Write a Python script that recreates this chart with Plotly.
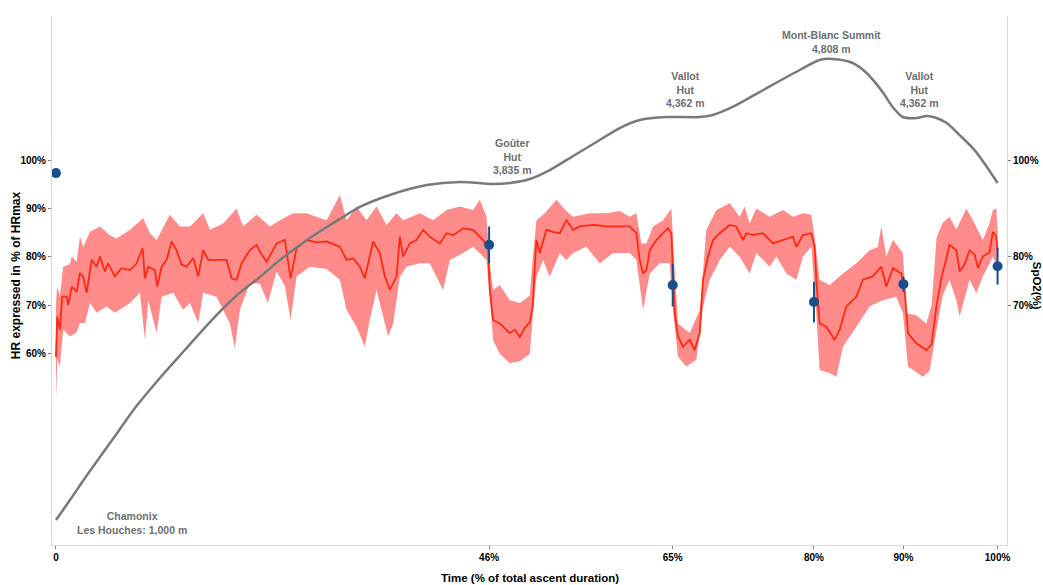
import plotly.graph_objects as go

# ---- Heart rate (% of HRmax): mean line and band (x = % of ascent duration) ----
mean_x = [0, 0.14, 0.42, 0.67, 1.14, 1.31, 1.67, 2.20, 2.55, 2.90, 3.26, 3.79, 4.32, 4.67, 5.20, 5.55,
          6.26, 6.97, 7.86, 8.57, 9.20, 9.45, 9.80, 10.51, 10.75, 11.22, 11.75, 12.28, 12.81, 13.34,
          13.87, 14.58, 15.11, 15.64, 16.17, 16.70, 17.41, 18.12, 18.65, 19.18, 19.71, 20.59, 21.31,
          21.66, 22.37, 23.43, 24.31, 24.92, 25.55, 26.61, 27.68, 28.74, 30.15, 30.86, 31.56, 32.27,
          32.80, 33.68, 34.39, 34.93, 35.46, 36.17, 36.52, 36.87, 37.58, 38.29, 38.99, 39.70, 40.76,
          41.48, 42.18, 43.24, 44.30, 45.36, 45.89, 46.07, 46.42, 47.13, 48.20, 48.73, 49.26, 49.79,
          50.32, 50.64, 50.85, 51.03, 51.38, 52.09, 52.79, 53.50, 54.21, 54.92, 55.63, 57.04, 58.46,
          59.87, 60.93, 61.64, 61.99, 62.35, 62.71, 63.06, 63.77, 64.47, 65.00, 65.36, 65.53, 65.71,
          66.06, 66.59, 67.30, 67.83, 68.37, 68.72, 69.25, 69.78, 70.49, 71.55, 72.26, 72.96, 73.32,
          74.02, 75.08, 76.15, 77.21, 78.27, 78.63, 79.33, 80.22, 80.57, 80.75, 81.10, 81.81, 82.70,
          83.23, 83.94, 85.00, 85.70, 86.76, 87.65, 88.18, 88.89, 89.78, 90.13, 90.48, 91.37, 92.43,
          92.99, 93.52, 94.06, 94.48, 94.90, 95.62, 95.97, 96.50, 97.03, 97.56, 97.91, 98.44, 99.15,
          99.50, 99.86, 100]
mean_hr = [59.4, 67.7, 65, 71.8, 71.8, 70.1, 73.9, 72.8, 76.7, 75.9, 72.6, 79.4, 78, 80.1, 77, 78.7,
           76, 77.7, 77.3, 78.7, 81.8, 75.6, 78, 77.3, 73.9, 78, 79.4, 83.2, 81.4, 78.4,
           78, 79.8, 76, 81.4, 79.4, 79.4, 79.4, 79.4, 75.6, 75.3, 78.7, 81.4, 82.5,
           81.1, 79, 82.8, 83.5, 75.6, 81.8, 83.5, 83, 83.2, 82.1, 79.4, 79.7, 78,
           75.6, 83.2, 80.8, 76, 73.2, 76, 84.2, 80.1, 82.8, 83.5, 85.6, 84.2, 82.8,
           84.9, 84.5, 85.9, 85.6, 83.5, 82.1, 73.2, 67, 66.3, 64.3, 65, 63.5, 65.4,
           66.5, 70, 78, 83.5, 80.8, 85.6, 85.2, 84.9, 87.6, 85.6, 86.3, 86.6, 86.3,
           86.3, 86.3, 84.9, 79.4, 76.6, 77.3, 81.4, 83.5, 84.9, 85.9, 84.9, 75.3, 68.4,
           63.6, 61.5, 62.9, 60.8, 64.3, 75.3, 80.1, 83.5, 84.9, 86.6, 86.3, 83.5, 84.9,
           84.5, 84.9, 82.8, 83.5, 84.2, 82.1, 84.5, 84.9, 82.1, 75.3, 66.3, 65.6, 62.9,
           65, 69.8, 71.8, 75.3, 76, 78, 73.9, 77.7, 76.6, 73.2, 64.3, 62.2, 60.8,
           62, 70, 76, 79, 82.5, 81.4, 77, 78.5, 81.4, 80.5, 77.7, 80.1, 81,
           85.2, 84.2, 81.4]

upper_x = [0, 0.11, 0.42, 0.77, 1.49, 1.67, 2.20, 2.55, 2.90, 3.61, 4.67, 5.73, 6.44, 7.86, 9.27,
           9.98, 10.69, 12.10, 13.16, 14.23, 15.64, 16.35, 17.76, 19.18, 19.88, 21.31, 22.72, 23.78,
           25.19, 26.61, 28.74, 30.15, 30.86, 31.92, 32.98, 34.04, 35.11, 36.17, 36.87, 38.64, 40.05,
           41.48, 42.89, 44.30, 45.01, 45.72, 46.07, 46.42, 47.13, 48.20, 49.26, 50.32, 50.64, 51.03,
           51.91, 53.15, 54.21, 54.92, 56.69, 58.46, 59.87, 60.93, 61.64, 62.17, 62.71, 63.40, 64.47,
           65.36, 65.61, 66.06, 67.30, 68.37, 68.68, 69.07, 70.14, 71.55, 72.61, 73.14, 73.67, 74.38,
           75.80, 77.21, 78.27, 79.33, 80.22, 80.57, 81.10, 82.17, 83.58, 85.00, 86.41, 87.26, 87.65,
           88.18, 88.89, 89.95, 90.31, 91.37, 92.43, 92.99, 93.52, 94.16, 94.90, 95.62, 96.68, 97.38,
           98.44, 99.15, 99.50, 99.86, 100]
upper_hr = [70, 73.9, 72, 78, 78.5, 80.1, 79, 84.2, 82, 85.2, 86.3, 84.5, 83.8, 85.6, 88,
            84.9, 83.5, 88.7, 86.3, 86.3, 89, 85.6, 86.9, 90, 86.3, 88.7, 86.3, 87.6,
            89, 89, 87.6, 92.8, 87.6, 90.4, 87.6, 90.4, 86.6, 89, 87.6, 89, 87.6,
            89.7, 90.4, 89.7, 91.8, 88.3, 78.7, 73.2, 74.2, 71.1, 70.5, 72, 80, 87.6,
            89, 91.8, 89.5, 88.3, 89, 89, 89.5, 88.3, 89, 82.8, 82.8, 86.3, 87.6,
            90, 80, 66.3, 64.3, 69, 76, 85.6, 89.7, 91.1, 88.3, 90.4, 86.9, 90,
            88.3, 89.7, 88.3, 89, 88.7, 84, 75.3, 74.2, 76.6, 78.7, 81.4, 82, 86.3,
            80.1, 83.5, 80.8, 68.4, 68, 66.3, 70, 84, 87, 88.3, 85.6, 90, 87.6,
            83.5, 87, 89.7, 90, 85.6]

lower_x = [0, 0.14, 0.42, 0.77, 1.49, 2.20, 2.55, 3.08, 3.61, 4.32, 5.38, 6.26, 7.86, 8.92, 9.45,
           9.80, 10.69, 11.22, 12.45, 13.51, 14.23, 15.11, 15.64, 17.06, 18.47, 19.00, 19.53, 20.59,
           21.66, 22.51, 23.43, 24.31, 24.92, 25.55, 26.96, 28.74, 30.15, 30.86, 31.92, 32.80, 33.33,
           34.04, 34.75, 35.28, 35.81, 36.52, 37.23, 38.64, 39.70, 41.11, 41.83, 43.24, 44.30, 45.72,
           46.07, 46.42, 47.13, 48.20, 49.26, 50.32, 50.64, 51.03, 51.73, 52.44, 53.50, 54.21, 54.92,
           56.33, 57.75, 59.16, 60.93, 61.64, 62.35, 63.06, 64.12, 65.18, 65.53, 66.06, 66.95, 68.01,
           68.72, 69.43, 70.49, 71.55, 72.61, 73.67, 74.38, 75.80, 76.51, 77.57, 78.63, 79.33, 80.22,
           80.75, 81.10, 82.17, 82.88, 83.58, 85.00, 86.41, 87.80, 89.24, 89.95, 90.48, 92.07, 92.78,
           93.52, 94.16, 94.90, 95.62, 95.97, 97.03, 97.74, 98.44, 99.50, 100]
lower_hr = [49.9, 59, 57.4, 65, 63.6, 64.5, 66.4, 66.4, 70.5, 68.5, 69.8, 68.5, 70.5, 72.6, 62.9,
            71.1, 64.3, 71.8, 72.6, 69.1, 70.5, 66.4, 72.6, 71.8, 66.3, 61.2, 69.1, 74.6,
            74.5, 70.5, 77, 74, 67, 76, 78, 77.5, 75.3, 69.1, 65.6, 61.5, 67,
            73.2, 67.7, 63.6, 66.3, 75.9, 78, 78.7, 78.7, 73.2, 79.4, 80.8, 82.1, 79.4,
            72, 62.9, 60, 58.1, 58.5, 60, 68, 75.9, 79.4, 75.9, 80.8, 79.4, 80.8,
            82.1, 78.7, 80.8, 80.8, 79.4, 69.1, 76.6, 78.7, 78.7, 69, 59.4, 57.4, 58.8,
            69.8, 75.3, 79.4, 82.1, 80.1, 76.6, 80.8, 78, 80.1, 76.6, 75.3, 80.1, 82.1,
            68.4, 56.7, 56, 55.3, 61.5, 65.6, 69.8, 71.1, 71.8, 68.4, 57.4, 55.3, 56.5,
            65, 72, 75.3, 71.1, 67.7, 75.3, 72.5, 76, 80.1, 78]

# ---- Elevation profile (m) ----
elev_x = [0, 1.49, 3.08, 4.67, 6.58, 8.39, 11.04, 13.69, 16.35, 19.00, 21.66, 23.78, 26.96, 30.15,
          32.27, 35.46, 39.38, 42.89, 46.39, 48.20, 50.32, 52.44, 55.10, 57.75, 59.87, 62.00, 64.86,
          68.37, 69.75, 71.87, 75.48, 78.98, 81.10, 82.48, 84.61, 86.09, 87.79, 88.85, 89.92, 91.40,
          92.46, 93.52, 94.59, 95.97, 97.56, 98.94, 100]
elev_m = [1000, 1165, 1347, 1520, 1727, 1925, 2173, 2404, 2635, 2842, 3007, 3147, 3329, 3486,
          3585, 3684, 3766, 3791, 3775, 3783, 3816, 3890, 4014, 4138, 4237, 4303, 4328,
          4328, 4345, 4411, 4567, 4716, 4799, 4807, 4774, 4691, 4534, 4411, 4328, 4320,
          4336, 4320, 4278, 4179, 4055, 3907, 3783]

# ---- SpO2 at checkpoints ----
event_pos = [0, 46, 65.5, 80.5, 90, 100]
event_labels = ["0", "46%", "65%", "80%", "90%", "100%"]
spo2_mean = [97.3, 82.5, 74.2, 70.7, 74.4, 78.1]
spo2_sd = [0.3, 3.8, 4.4, 4.2, 1.6, 3.8]

# ---- Place labels ----
place_text = ["Chamonix<br>Les Houches: 1,000 m", "Goûter<br>Hut<br>3,835 m", "Vallot<br>Hut<br>4,362 m",
              "Mont-Blanc Summit<br>4,808 m", "Vallot<br>Hut<br>4,362 m"]
place_x = [8.1, 48.5, 66.9, 82.4, 91.7]
place_elev = [975, 4006, 4559, 4951, 4559]

FONT = "Liberation Sans, Arial, sans-serif"
AXIS_GREY = "#d9d9d9"

fig = go.Figure()

fig.add_trace(go.Scatter(
    x=upper_x + lower_x[::-1], y=upper_hr + lower_hr[::-1],
    fill="toself", fillcolor="#ff8b8b", mode="lines", line=dict(width=0),
    hoverinfo="skip", showlegend=False))

fig.add_trace(go.Scatter(
    x=mean_x, y=mean_hr, mode="lines", line=dict(color="#ff2a10", width=1.8),
    showlegend=False))

fig.add_trace(go.Scatter(
    x=elev_x, y=elev_m, yaxis="y2", mode="lines",
    line=dict(color="#7a7a7a", width=2.5, shape="spline", smoothing=0.8),
    showlegend=False))

fig.add_trace(go.Scatter(
    x=event_pos, y=spo2_mean, yaxis="y3", mode="markers",
    marker=dict(color="#184f8c", size=10),
    error_y=dict(type="data", array=spo2_sd, width=0, thickness=2, color="#184f8c"),
    showlegend=False))

annotations = []
for t, x, e in zip(place_text, place_x, place_elev):
    annotations.append(dict(
        text=t, x=x, y=e, xref="x", yref="y2", showarrow=False,
        font=dict(family=FONT, size=10.5, color="#6e6e6e", weight="bold"),
        align="center", xanchor="center", yanchor="middle"))

annotations.append(dict(
    text="HR expressed in % of HRmax", x=-0.0377, y=0.51, xref="paper", yref="paper",
    showarrow=False, textangle=-90, xanchor="center", yanchor="middle",
    font=dict(family=FONT, size=12, color="black", weight="bold")))
annotations.append(dict(
    text="SpO2(%)", x=1.0315, y=0.49, xref="paper", yref="paper",
    showarrow=False, textangle=90, xanchor="center", yanchor="middle",
    font=dict(family=FONT, size=11.5, color="black", weight="bold")))
annotations.append(dict(
    text="Time (% of total ascent duration)", x=0.501, y=-0.0624, xref="paper", yref="paper",
    showarrow=False, xanchor="center", yanchor="middle",
    font=dict(family=FONT, size=11.5, color="black", weight="bold")))

tickfont = dict(family=FONT, size=10, color="black", weight="bold")

fig.update_layout(
    width=1043, height=585, autosize=False,
    margin=dict(l=52, r=35.5, t=16, b=40, autoexpand=False),
    paper_bgcolor="white", plot_bgcolor="white",
    annotations=annotations,
    xaxis=dict(range=[-0.42, 101.0], tickvals=event_pos, ticktext=event_labels, automargin=False,
               showgrid=False, zeroline=False, showline=True, linecolor=AXIS_GREY, linewidth=1,
               ticks="outside", ticklen=3, tickcolor="#7f7f7f", tickfont=tickfont),
    yaxis=dict(range=[20.6, 129.7], tickvals=[60, 70, 80, 90, 100], automargin=False,
               ticktext=["60%", "70%", "80%", "90%", "100%"],
               showgrid=False, zeroline=False, showline=True, linecolor=AXIS_GREY, linewidth=1,
               ticks="outside", ticklen=3, tickcolor="#7f7f7f", tickfont=tickfont),
    yaxis2=dict(range=[794, 5162], overlaying="y", visible=False, automargin=False),
    yaxis3=dict(range=[20.6, 129.7], overlaying="y", side="right", anchor="x", automargin=False,
                tickvals=[70, 80, 100], ticktext=["70%", "80%", "100%"],
                showgrid=False, zeroline=False, showline=True, linecolor=AXIS_GREY, linewidth=1,
                ticks="outside", ticklen=3, tickcolor="#7f7f7f", tickfont=tickfont),
)

fig.write_html("out.html", config={"displayModeBar": False},
               post_script="document.body.style.margin='0px';document.body.style.overflow='hidden';")
